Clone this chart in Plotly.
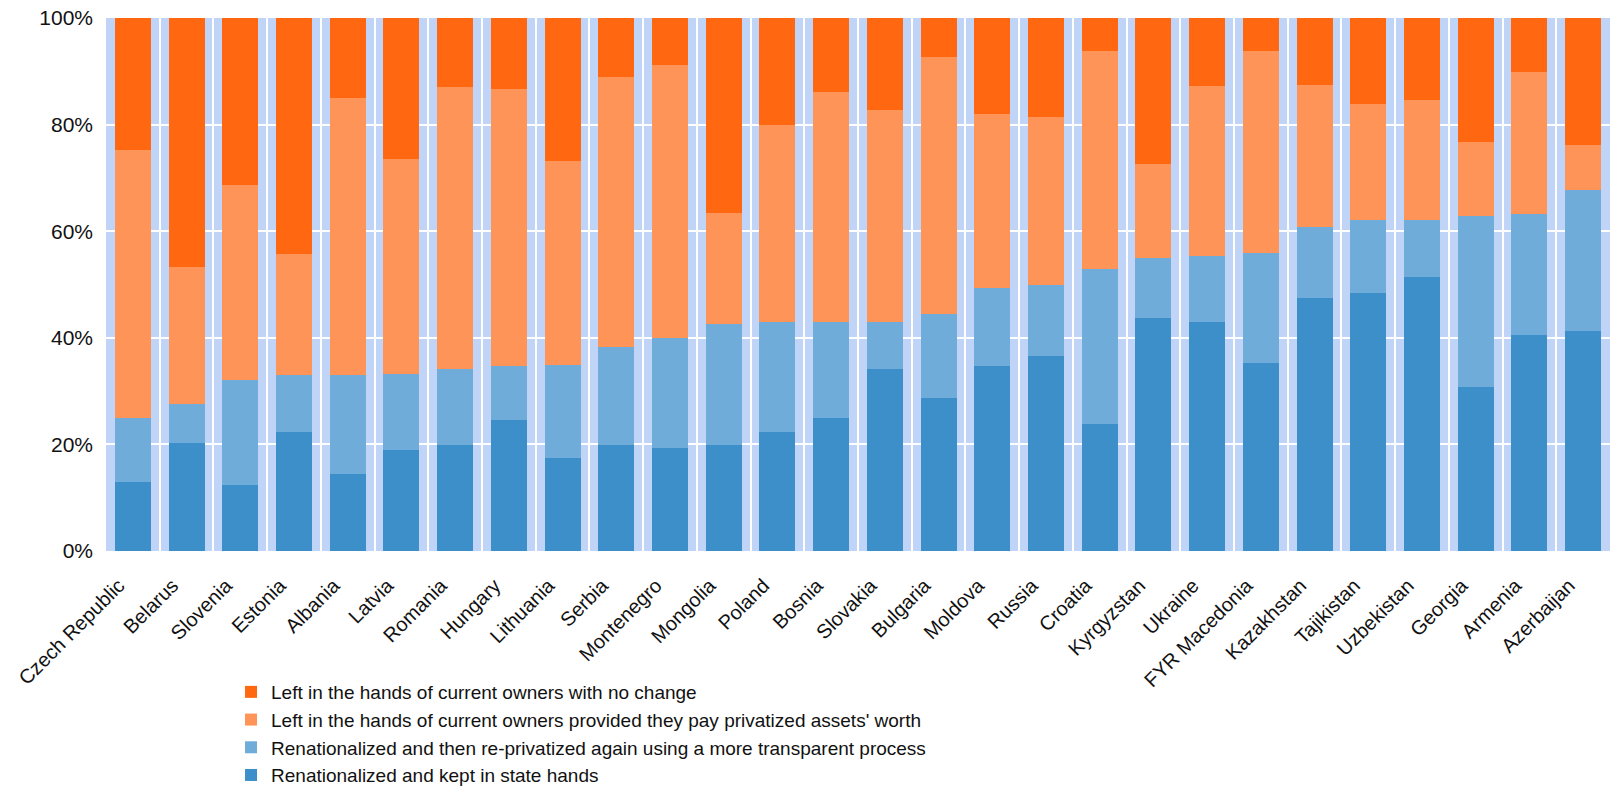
import plotly.graph_objects as go

countries = ["Czech Republic", "Belarus", "Slovenia", "Estonia", "Albania", "Latvia", "Romania",
             "Hungary", "Lithuania", "Serbia", "Montenegro", "Mongolia", "Poland", "Bosnia",
             "Slovakia", "Bulgaria", "Moldova", "Russia", "Croatia", "Kyrgyzstan", "Ukraine",
             "FYR Macedonia", "Kazakhstan", "Tajikistan", "Uzbekistan", "Georgia", "Armenia",
             "Azerbaijan"]

state_hands = [13.0, 20.3, 12.4, 22.4, 14.5, 19.0, 19.9, 24.6, 17.5, 19.9, 19.3, 19.9, 22.4, 25.0,
               34.2, 28.8, 34.7, 36.6, 23.9, 43.8, 43.0, 35.3, 47.5, 48.4, 51.4, 30.8, 40.5, 41.3]
reprivatized = [11.9, 7.2, 19.6, 10.6, 18.5, 14.2, 14.3, 10.1, 17.4, 18.4, 20.6, 22.6, 20.5, 17.9,
                8.8, 15.7, 14.6, 13.4, 29.1, 11.1, 12.4, 20.6, 13.3, 13.7, 10.7, 32.1, 22.7, 26.5]
pay_worth = [50.4, 25.8, 36.6, 22.7, 51.9, 40.4, 52.8, 52.0, 38.3, 50.6, 51.3, 21.0, 37.0, 43.2,
             39.8, 48.2, 32.7, 31.4, 40.8, 17.7, 31.9, 37.9, 26.7, 21.8, 22.5, 13.9, 26.7, 8.4]
no_change = [24.7, 46.7, 31.4, 44.3, 15.1, 26.4, 13.0, 13.3, 26.8, 11.1, 8.8, 36.5, 20.1, 13.9,
             17.2, 7.3, 18.0, 18.6, 6.2, 27.4, 12.7, 6.2, 12.5, 16.1, 15.4, 23.2, 10.1, 23.8]

y_tick_values = [0, 20, 40, 60, 80, 100]
y_tick_labels = ["0%", "20%", "40%", "60%", "80%", "100%"]

series = [
    ("Renationalized and kept in state hands", state_hands, "#3D8FCA"),
    ("Renationalized and then re-privatized again using a more transparent process", reprivatized, "#70ACD9"),
    ("Left in the hands of current owners provided they pay privatized assets' worth", pay_worth, "#FF9458"),
    ("Left in the hands of current owners with no change", no_change, "#FF6811"),
]

fig = go.Figure()
for name, vals, color in series:
    fig.add_trace(go.Bar(x=countries, y=vals, name=name, marker=dict(color=color, line=dict(width=0))))

font_family = "Liberation Sans, Arial, sans-serif"
fig.update_layout(
    barmode="stack",
    bargap=0.33,
    width=1610, height=789,
    margin=dict(l=106, r=0, t=18, b=238, autoexpand=False),
    paper_bgcolor="white",
    plot_bgcolor="#C0D4F7",
    font=dict(family=font_family, color="#111111"),
    legend=dict(traceorder="reversed", xref="container", yref="container",
                x=0.1435, y=0.147, xanchor="left", yanchor="top",
                font=dict(size=19, family=font_family, color="#111111"), bgcolor="rgba(0,0,0,0)"),
    xaxis=dict(type="category", tickson="boundaries", showgrid=True, gridcolor="white", gridwidth=2,
               tickangle=-45, tickfont=dict(size=20), ticks="", showline=False, zeroline=False,
               ticklabelstandoff=18, ticklabelshift=-14, automargin=False),
    yaxis=dict(range=[0, 100], tickmode="array", tickvals=y_tick_values, ticktext=y_tick_labels,
               showgrid=True, gridcolor="white", gridwidth=2, zeroline=False, showline=False,
               tickfont=dict(size=21), ticklabelstandoff=12, automargin=False),
)

fig.write_html("out.html")
